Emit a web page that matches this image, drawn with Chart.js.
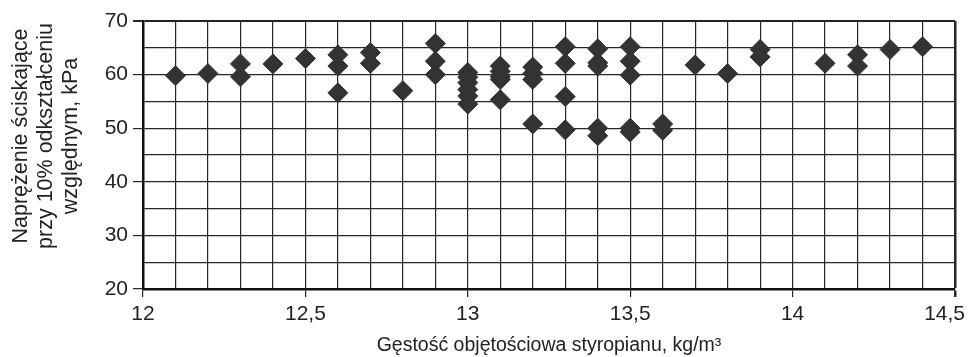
<!DOCTYPE html>
<html>
<head>
<meta charset="utf-8">
<script src="https://cdn.jsdelivr.net/npm/chart.js@4.4.1/dist/chart.umd.min.js"></script>
<style>
  html, body { margin: 0; padding: 0; background: #fff; }
  #wrap { width: 968px; height: 357px; }
</style>
</head>
<body>
<div id="wrap"><canvas id="chart"></canvas></div>
<script>
// density (kg/m3) and compressive stress at 10% strain (kPa)
const density = [
    12.1, 12.2, 12.3, 12.3, 12.4, 12.5, 12.6, 12.6, 12.6, 12.7, 12.7, 12.8,
    12.9, 12.9, 12.9, 13.0, 13.0, 13.0, 13.0, 13.0, 13.0,
    13.1, 13.1, 13.1, 13.1, 13.1, 13.2, 13.2, 13.2, 13.2,
    13.3, 13.3, 13.3, 13.3, 13.4, 13.4, 13.4, 13.4, 13.4,
    13.5, 13.5, 13.5, 13.5, 13.5, 13.6, 13.6, 13.7, 13.8,
    13.9, 13.9, 14.1, 14.2, 14.2, 14.3, 14.4
];
const stress = [
    59.8, 60.2, 62.0, 59.6, 62.0, 63.0, 63.7, 61.6, 56.6, 64.1, 62.1, 57.0,
    65.8, 62.5, 60.0, 60.4, 59.5, 58.5, 57.2, 56.0, 54.5,
    61.6, 60.6, 59.6, 59.1, 55.3, 61.4, 60.2, 59.1, 50.8,
    65.2, 62.1, 55.9, 49.7, 64.8, 62.2, 61.6, 50.0, 48.6,
    65.2, 62.5, 59.9, 50.0, 49.3, 50.8, 49.6, 61.8, 60.2,
    64.7, 63.3, 62.1, 63.7, 61.6, 64.7, 65.2
];

const xTickValues = [12, 12.5, 13, 13.5, 14, 14.5];
const xTickLabels = ['12', '12,5', '13', '13,5', '14', '14,5'];
const yTitleLines = ['Naprężenie ściskające', 'przy 10% odkształceniu', 'względnym, kPa'];
const xTitle = 'Gęstość objętościowa styropianu, kg/m³';

const FONT = '"Liberation Sans", Arial, sans-serif';
const TEXT = '#222';
const GRID = '#262626';

const isMajorX = v => Math.abs(v * 2 - Math.round(v * 2)) < 1e-6;

// x tick labels (last one kept inside the canvas) and the 3-line y title
const extraText = {
    id: 'extraText',
    afterDraw(chart) {
        const ctx = chart.ctx;
        const xs = chart.scales.x;
        const area = chart.chartArea;
        ctx.save();
        ctx.fillStyle = TEXT;
        ctx.font = '21px ' + FONT;
        ctx.textBaseline = 'alphabetic';
        ctx.textAlign = 'center';
        xTickValues.forEach((v, i) => {
            let px = xs.getPixelForValue(v);
            const w = ctx.measureText(xTickLabels[i]).width;
            if (px + w / 2 > chart.width - 3) px = chart.width - 3 - w / 2;
            ctx.fillText(xTickLabels[i], px, area.bottom + 31);
        });

        ctx.font = '21.5px ' + FONT;
        const cy = 136;
        yTitleLines.forEach((line, i) => {
            ctx.save();
            ctx.translate(27 + i * 24.8, cy);
            ctx.rotate(-Math.PI / 2);
            ctx.fillText(line, 0, 0);
            ctx.restore();
        });
        ctx.restore();
    }
};

new Chart(document.getElementById('chart'), {
    type: 'scatter',
    data: {
        datasets: [{
            data: density.map((x, i) => ({ x: x, y: stress[i] })),
            pointStyle: 'rectRot',
            pointRadius: 10,
            pointHoverRadius: 10,
            backgroundColor: '#333',
            borderColor: '#333',
            borderWidth: 1
        }]
    },
    options: {
        responsive: true,
        maintainAspectRatio: false,
        animation: false,
        layout: { padding: { left: 0, top: 21, right: 13, bottom: 0 } },
        plugins: {
            legend: { display: false },
            tooltip: { enabled: false }
        },
        scales: {
            x: {
                type: 'linear',
                min: 12,
                max: 14.5,
                afterFit: (scale) => {
                    scale.height = 68;
                    scale.paddingLeft = 0;
                    scale.paddingRight = 0;
                },
                ticks: {
                    stepSize: 0.1,
                    autoSkip: false,
                    maxRotation: 0,
                    callback: () => ''
                },
                grid: {
                    color: GRID,
                    lineWidth: (c) => (c.tick && Math.abs(c.tick.value - 14.5) < 1e-6) ? 2.5 : 1.2,
                    tickLength: 8,
                    tickColor: (c) => (c.tick && isMajorX(c.tick.value)) ? GRID : 'rgba(0,0,0,0)'
                },
                border: { color: '#111', width: 2.5 },
                title: {
                    display: true,
                    text: xTitle,
                    color: TEXT,
                    font: { family: FONT, size: 19.5 },
                    padding: { top: 0, bottom: 0 }
                }
            },
            y: {
                min: 20,
                max: 70,
                afterFit: (scale) => {
                    scale.width = 143;
                    scale.paddingTop = 0;
                    scale.paddingBottom = 0;
                },
                ticks: {
                    stepSize: 5,
                    padding: 5,
                    autoSkip: false,
                    color: TEXT,
                    font: { family: FONT, size: 21 },
                    callback: (v) => (v % 10 === 0 ? String(v) : '')
                },
                grid: {
                    color: GRID,
                    lineWidth: (c) => (c.tick && c.tick.value === 70) ? 2 : 1.2,
                    tickLength: 10,
                    tickColor: (c) => (c.tick && c.tick.value % 10 === 0) ? GRID : 'rgba(0,0,0,0)'
                },
                border: { color: '#111', width: 2.5 }
            }
        }
    },
    plugins: [extraText]
});
</script>
</body>
</html>
